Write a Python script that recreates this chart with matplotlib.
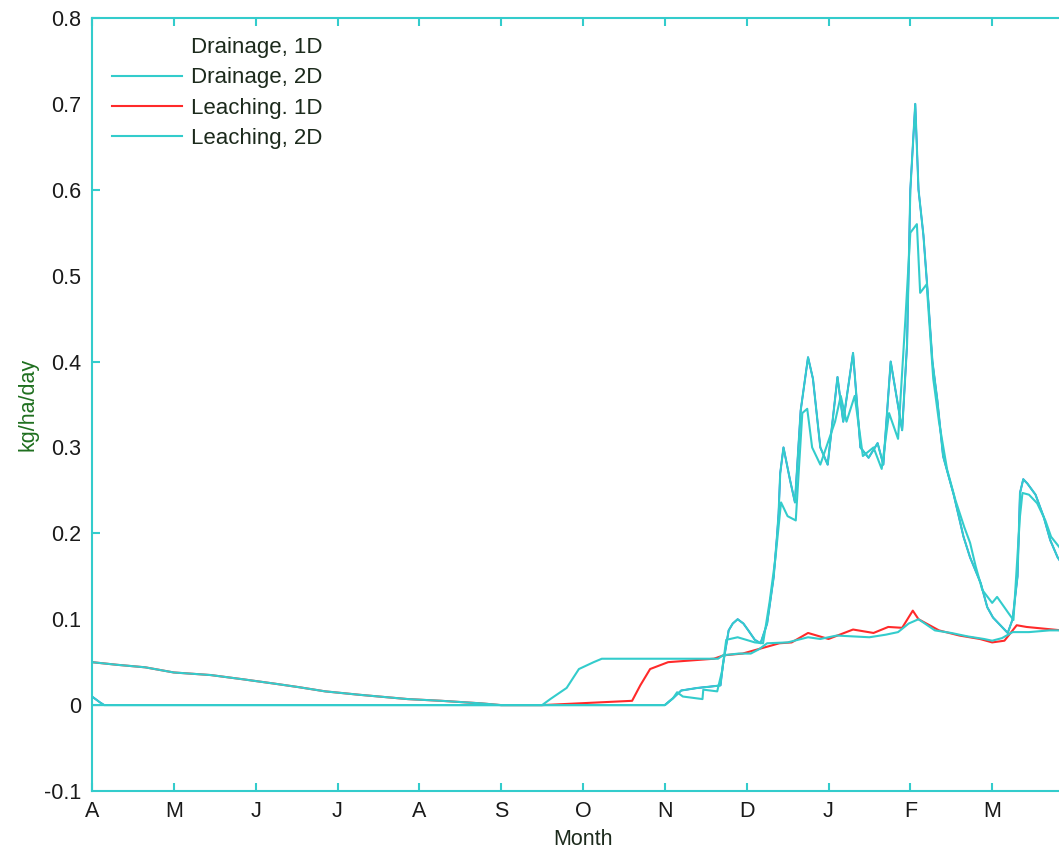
import matplotlib
matplotlib.use("Agg")
import matplotlib.pyplot as plt
from matplotlib.lines import Line2D

plt.rcParams['font.family'] = ['Liberation Sans', 'DejaVu Sans']

# x in months since 1 April
month_labels = ['A', 'M', 'J', 'J', 'A', 'S', 'O', 'N', 'D', 'J', 'F', 'M', '']

# Drainage, 1D
drain1_x = [0.0, 0.1, 0.15, 7.0, 7.1, 7.2, 7.4, 7.6, 7.68, 7.71, 7.74, 7.78, 7.83, 7.89, 7.96,
            8.02, 8.10, 8.17, 8.25, 8.29, 8.33, 8.37, 8.39, 8.41, 8.45, 8.53, 8.59, 8.66, 8.75,
            8.81, 8.90, 8.99, 9.11, 9.18, 9.30, 9.39, 9.49, 9.60, 9.67, 9.76, 9.90, 9.96, 10.00,
            10.06, 10.10, 10.16, 10.22, 10.27, 10.33, 10.40, 10.53, 10.65, 10.73, 10.86, 10.94,
            11.01, 11.10, 11.19, 11.25, 11.31, 11.34, 11.38, 11.43, 11.53, 11.63, 11.71, 11.80, 11.85]
drain1_y = [0.010, 0.003, 0.0, 0.0, 0.008, 0.017, 0.020, 0.022, 0.023, 0.047, 0.064, 0.087, 0.095, 0.100, 0.095,
            0.087, 0.076, 0.072, 0.095, 0.122, 0.149, 0.196, 0.223, 0.270, 0.300, 0.262, 0.236, 0.343, 0.405,
            0.380, 0.300, 0.280, 0.382, 0.330, 0.410, 0.300, 0.288, 0.305, 0.280, 0.400, 0.320, 0.420, 0.600,
            0.700, 0.600, 0.547, 0.470, 0.400, 0.355, 0.290, 0.245, 0.196, 0.172, 0.142, 0.114,
            0.102, 0.093, 0.084, 0.100, 0.150, 0.247, 0.263, 0.258, 0.245, 0.219, 0.192, 0.172, 0.165]

# Drainage, 2D
drain2_x = [0.0, 7.0, 7.1, 7.15, 7.22, 7.46, 7.47, 7.64, 7.70, 7.75, 7.89, 8.10, 8.20, 8.28, 8.35,
            8.42, 8.50, 8.60, 8.68, 8.74, 8.80, 8.90, 9.08, 9.15, 9.22, 9.32, 9.42, 9.55, 9.65,
            9.74, 9.85, 9.94, 10.00, 10.08, 10.12, 10.20, 10.28, 10.35, 10.45, 10.55, 10.66, 10.73,
            10.80, 10.88, 11.00, 11.06, 11.20, 11.26, 11.30, 11.34, 11.37, 11.45, 11.55, 11.65,
            11.72, 11.82, 11.85]
drain2_y = [0.0, 0.0, 0.008, 0.015, 0.010, 0.007, 0.018, 0.016, 0.040, 0.076, 0.079, 0.073, 0.072, 0.120, 0.170,
            0.236, 0.220, 0.215, 0.340, 0.345, 0.300, 0.280, 0.330, 0.360, 0.330, 0.360, 0.290, 0.300, 0.275,
            0.340, 0.310, 0.450, 0.550, 0.560, 0.480, 0.490, 0.380, 0.330, 0.274, 0.239, 0.207, 0.189,
            0.161, 0.134, 0.119, 0.126, 0.107, 0.099, 0.160, 0.220, 0.247, 0.245, 0.235, 0.215,
            0.196, 0.184, 0.180]

# Leaching, 1D
leach1_x = [0.0, 0.3, 0.65, 1.0, 1.45, 1.85, 2.23, 2.52, 2.85, 3.27, 3.86, 4.27, 4.76, 5.0, 5.5,
            6.6, 6.7, 6.82, 7.04, 7.6, 7.72, 7.95, 8.4, 8.55, 8.75, 9.0, 9.3, 9.55, 9.73, 9.9,
            10.03, 10.1, 10.35, 10.6, 10.85, 11.0, 11.15, 11.3, 11.42, 11.85]
leach1_y = [0.050, 0.047, 0.044, 0.038, 0.035, 0.030, 0.025, 0.021, 0.016, 0.012, 0.007, 0.005, 0.002, 0.0, 0.0,
            0.005, 0.023, 0.042, 0.050, 0.054, 0.058, 0.060, 0.072, 0.073, 0.084, 0.077, 0.088, 0.084, 0.091, 0.090,
            0.110, 0.100, 0.087, 0.081, 0.077, 0.073, 0.075, 0.093, 0.091, 0.087]

# Leaching, 2D
leach2_x = [0.0, 0.3, 0.65, 1.0, 1.45, 1.85, 2.23, 2.52, 2.85, 3.27, 3.86, 4.27, 4.76, 5.0, 5.5,
            5.6, 5.8, 5.95, 6.13, 6.23, 7.65, 7.71, 7.9, 8.05, 8.15, 8.25, 8.5, 8.75, 8.9, 9.1,
            9.3, 9.5, 9.7, 9.85, 9.98, 10.1, 10.3, 10.5, 10.7, 10.9, 11.0, 11.12, 11.25, 11.45,
            11.7, 11.85]
leach2_y = [0.050, 0.047, 0.044, 0.038, 0.035, 0.030, 0.025, 0.021, 0.016, 0.012, 0.007, 0.005, 0.002, 0.0, 0.0,
            0.007, 0.020, 0.042, 0.050, 0.054, 0.054, 0.058, 0.060, 0.060, 0.065, 0.072, 0.073, 0.079, 0.077, 0.081,
            0.080, 0.079, 0.082, 0.085, 0.095, 0.100, 0.087, 0.084, 0.080, 0.077, 0.075, 0.078, 0.085, 0.085,
            0.087, 0.087]

y_ticks = [-0.1, 0, 0.1, 0.2, 0.3, 0.4, 0.5, 0.6, 0.7, 0.8]
y_tick_labels = ['-0.1', '0', '0.1', '0.2', '0.3', '0.4', '0.5', '0.6', '0.7', '0.8']

cyan = '#33cccc'
red = '#ff2a2a'
blue = '#2a2aff'
txt = '#1c2a1c'
fs = 15.5

fig = plt.figure(figsize=(10.59, 8.52), dpi=100)
ax = fig.add_axes([92 / 1059, 1 - 791 / 852, 982 / 1059, 773 / 852])

ax.plot(drain1_x, drain1_y, color=blue, lw=1.2)
ax.plot(drain1_x, drain1_y, color=cyan, lw=1.5)
ax.plot(leach1_x, leach1_y, color=red, lw=1.5)
ax.plot(drain2_x, drain2_y, color=cyan, lw=1.5)
ax.plot(leach2_x, leach2_y, color=cyan, lw=1.5)

ax.set_xlim(0, 12)
ax.set_ylim(-0.1, 0.8)
ax.set_xticks(range(13))
ax.set_xticklabels(month_labels)
ax.set_yticks(y_ticks)
ax.set_yticklabels(y_tick_labels)

for s in ax.spines.values():
    s.set_color(cyan)
    s.set_linewidth(1.5)
ax.tick_params(axis='both', direction='in', length=6, width=1.5, color=cyan,
               labelsize=fs, labelcolor='#1a1a1a', top=True, right=True)
ax.tick_params(axis='y', pad=8)
ax.tick_params(axis='x', pad=7)
# odd y ticks show no tick mark in the original
for val, tick in zip(y_ticks, ax.yaxis.get_major_ticks()):
    if round(val * 10) % 2 != 0:
        tick.tick1line.set_visible(False)
        tick.tick2line.set_visible(False)

ax.set_xlabel('Month', fontsize=fs, color=txt, labelpad=5)
ax.set_ylabel('kg/ha/day', fontsize=fs, color='#1f6f1f', labelpad=4)

handles = [Line2D([], [], color='none', lw=1.5),
           Line2D([], [], color=cyan, lw=1.5),
           Line2D([], [], color=red, lw=1.5),
           Line2D([], [], color=cyan, lw=1.5)]
labels = ['Drainage, 1D', 'Drainage, 2D', 'Leaching. 1D', 'Leaching, 2D']
leg = ax.legend(handles, labels, loc='upper left', frameon=False, fontsize=16,
                bbox_to_anchor=(112 / 1059, 1 - 37 / 852), bbox_transform=fig.transFigure,
                borderpad=0, borderaxespad=0, handlelength=3.15, handletextpad=0.4,
                labelspacing=0.42)
for t in leg.get_texts():
    t.set_color(txt)

fig.savefig('out.png', dpi=100)
